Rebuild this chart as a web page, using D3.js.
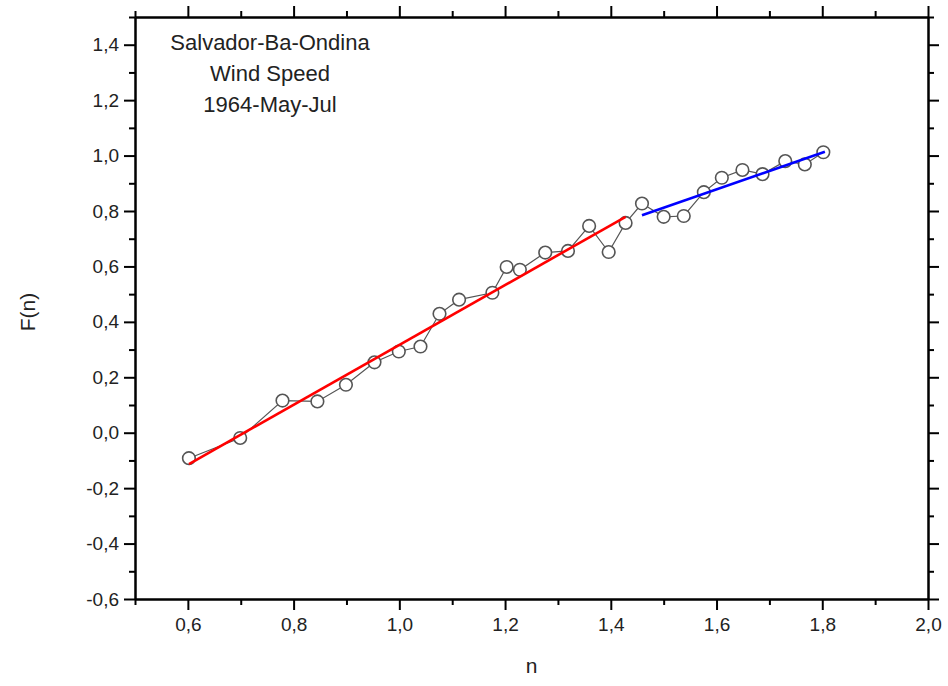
<!DOCTYPE html>
<html>
<head>
<meta charset="utf-8">
<script src="https://cdn.jsdelivr.net/npm/d3@7"></script>
<style>
  html, body { margin: 0; padding: 0; background: #fff; }
  svg { display: block; }
  text { font-family: "Liberation Sans", Arial, sans-serif; }
</style>
</head>
<body>
<svg id="chart" width="948" height="686"></svg>
<script>
// ---- data ----
const nValues = [0.602, 0.699, 0.779, 0.845, 0.899, 0.953, 0.999, 1.040, 1.076, 1.113, 1.176, 1.203, 1.228, 1.276,
                 1.319, 1.359, 1.396, 1.428, 1.459, 1.500, 1.538, 1.576, 1.610, 1.649, 1.687, 1.730, 1.767, 1.802];
const fValues = [-0.092, -0.019, 0.116, 0.113, 0.173, 0.254, 0.293, 0.311, 0.429, 0.480, 0.505, 0.598, 0.588, 0.650,
                 0.656, 0.746, 0.652, 0.757, 0.827, 0.779, 0.782, 0.868, 0.920, 0.948, 0.933, 0.980, 0.968, 1.012];
const redFitN = [0.602, 1.428];
const redFitF = [-0.113, 0.779];
const blueFitN = [1.459, 1.805];
const blueFitF = [0.785, 1.014];
const xMajorTicks = [0.6, 0.8, 1.0, 1.2, 1.4, 1.6, 1.8, 2.0];
const xMinorTicks = [0.5, 0.7, 0.9, 1.1, 1.3, 1.5, 1.7, 1.9];
const yMajorTicks = [-0.6, -0.4, -0.2, 0.0, 0.2, 0.4, 0.6, 0.8, 1.0, 1.2, 1.4];
const yMinorTicks = [-0.5, -0.3, -0.1, 0.1, 0.3, 0.5, 0.7, 0.9, 1.1, 1.3, 1.5];
const titleLines = ["Salvador-Ba-Ondina", "Wind Speed", "1964-May-Jul"];
const xLabel = "n";
const yLabel = "F(n)";

(function () {
// ---- layout ----
const svg = d3.select("#chart");
const pLeft = 135, pRight = 928, pTop = 17, pBottom = 599;
const x = d3.scaleLinear().domain([0.5, 2.0]).range([pLeft, pRight]);
const y = d3.scaleLinear().domain([-0.6, 1.5]).range([pBottom, pTop]);
const fmt = d => d3.format(".1f")(d).replace(".", ",").replace("\u2212", "-");

const majorLen = 11, minorLen = 6;

function styleAxis(g) {
  g.select(".domain").attr("stroke", "#000").attr("stroke-width", 2);
  g.selectAll(".tick line").attr("stroke", "#000").attr("stroke-width", 2);
  g.selectAll(".tick text").attr("fill", "#222").attr("font-size", 19)
    .attr("font-family", "'Liberation Sans', Arial, sans-serif");
}

// bottom
svg.append("g").attr("transform", `translate(0,${pBottom})`)
  .call(d3.axisBottom(x).tickValues(xMajorTicks).tickFormat(fmt).tickSize(majorLen).tickSizeOuter(0).tickPadding(8))
  .call(styleAxis);
svg.append("g").attr("transform", `translate(0,${pBottom})`)
  .call(d3.axisBottom(x).tickValues(xMinorTicks).tickFormat("").tickSize(minorLen).tickSizeOuter(0))
  .call(styleAxis);
// top
svg.append("g").attr("transform", `translate(0,${pTop})`)
  .call(d3.axisTop(x).tickValues(xMajorTicks).tickFormat("").tickSize(majorLen).tickSizeOuter(0))
  .call(styleAxis);
svg.append("g").attr("transform", `translate(0,${pTop})`)
  .call(d3.axisTop(x).tickValues(xMinorTicks).tickFormat("").tickSize(minorLen).tickSizeOuter(0))
  .call(styleAxis);
// left
svg.append("g").attr("transform", `translate(${pLeft},0)`)
  .call(d3.axisLeft(y).tickValues(yMajorTicks).tickFormat(fmt).tickSize(majorLen).tickSizeOuter(0).tickPadding(5))
  .call(styleAxis);
svg.append("g").attr("transform", `translate(${pLeft},0)`)
  .call(d3.axisLeft(y).tickValues(yMinorTicks).tickFormat("").tickSize(minorLen).tickSizeOuter(0))
  .call(styleAxis);
// right
svg.append("g").attr("transform", `translate(${pRight},0)`)
  .call(d3.axisRight(y).tickValues(yMajorTicks).tickFormat("").tickSize(majorLen).tickSizeOuter(0))
  .call(styleAxis);
svg.append("g").attr("transform", `translate(${pRight},0)`)
  .call(d3.axisRight(y).tickValues(yMinorTicks).tickFormat("").tickSize(minorLen).tickSizeOuter(0))
  .call(styleAxis);

// axis labels
svg.append("text").attr("x", (pLeft + pRight) / 2).attr("y", 673).attr("text-anchor", "middle")
  .attr("font-size", 21).attr("fill", "#222").text(xLabel);
svg.append("text").attr("transform", `translate(35,312) rotate(-90)`).attr("text-anchor", "middle")
  .attr("font-size", 21).attr("fill", "#222").text(yLabel);

// title
svg.append("g").selectAll("text").data(titleLines).join("text")
  .attr("x", 270).attr("y", (d, i) => 50 + i * 31).attr("text-anchor", "middle")
  .attr("font-size", 22).attr("fill", "#222").text(d => d);

// data
const pts = nValues.map((n, i) => [n, fValues[i]]);
const line = d3.line().x(d => x(d[0])).y(d => y(d[1]));
svg.append("path").datum(pts).attr("d", line).attr("fill", "none")
  .attr("stroke", "#555").attr("stroke-width", 1.2);
svg.append("g").selectAll("circle").data(pts).join("circle")
  .attr("cx", d => x(d[0])).attr("cy", d => y(d[1])).attr("r", 6.3)
  .attr("fill", "#fff").attr("stroke", "#555").attr("stroke-width", 1.6);

// fits
svg.append("path").datum(redFitN.map((n, i) => [n, redFitF[i]])).attr("d", line)
  .attr("fill", "none").attr("stroke", "#f00").attr("stroke-width", 2.6);
svg.append("path").datum(blueFitN.map((n, i) => [n, blueFitF[i]])).attr("d", line)
  .attr("fill", "none").attr("stroke", "#00f").attr("stroke-width", 2.6);
})();
</script>
</body>
</html>
